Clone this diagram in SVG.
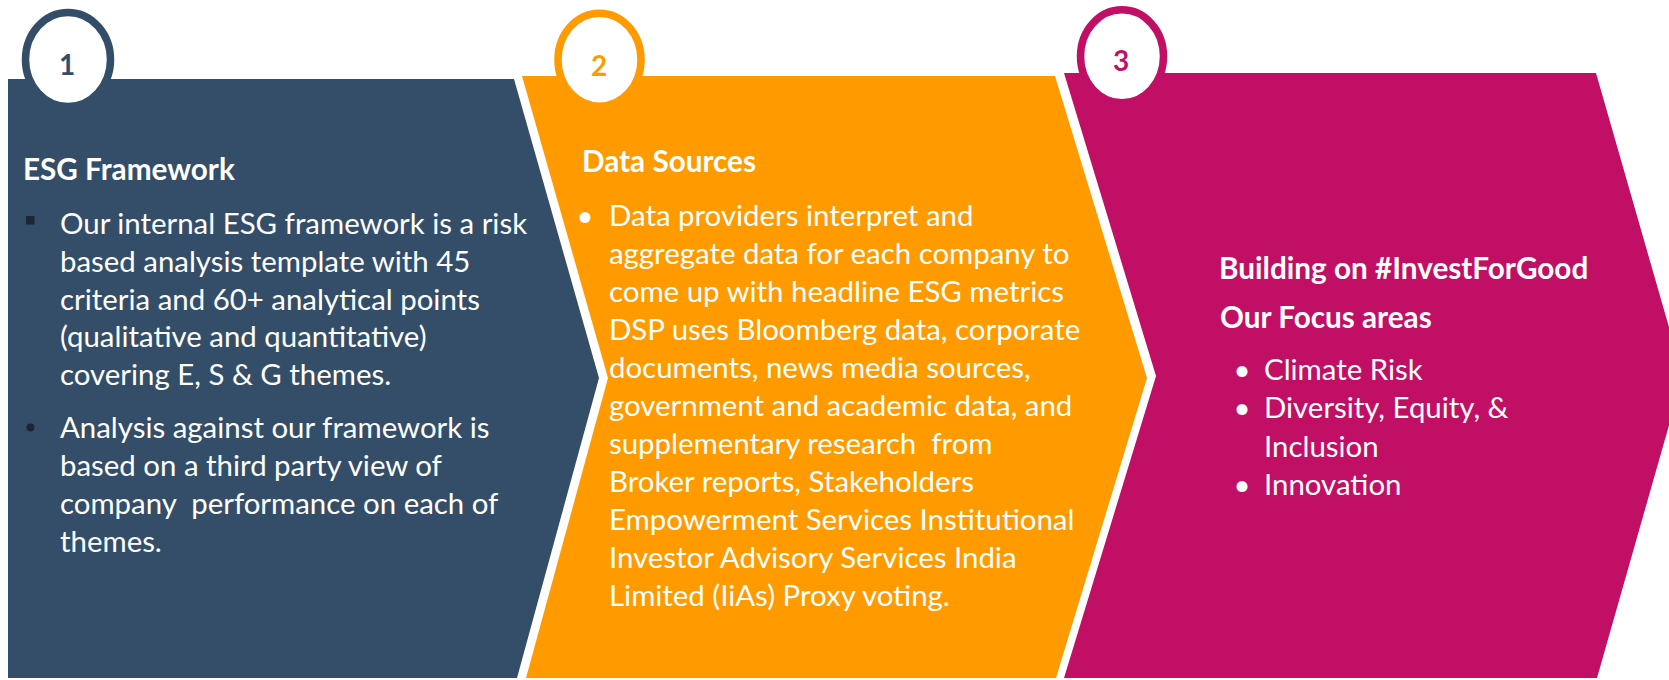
<svg xmlns="http://www.w3.org/2000/svg" width="1669" height="680" viewBox="0 0 1669 680">
<style>
.t{font-family:Lato,"Liberation Sans",sans-serif;fill:#fff;font-size:29.4px}
.h{font-weight:bold;font-size:29.7px}
.num{font-family:Lato,"Liberation Sans",sans-serif;font-weight:bold;font-size:28px;text-anchor:middle}
.ring{fill:#fff;stroke-width:7.5}
.dk{fill:#1b2735}
</style>
<rect width="1669" height="680" fill="#fff"/>
<g id="connectors"/>
<g id="step1">
<polygon points="8,79 514,79 599,378 517,678 8,678" fill="#344e69"/>
<ellipse class="ring" cx="68" cy="59.5" rx="42.5" ry="47" stroke="#344e69"/>
<text class="num" x="67" y="74.5" fill="#344e69">1</text>
<text class="t h" x="23" y="180">ESG Framework</text>
<rect class="dk" x="26" y="216" width="8.5" height="8.5"/>
<text class="t" x="60" y="234">Our internal ESG framework is a risk</text>
<text class="t" x="60" y="272">based analysis template with 45</text>
<text class="t" x="60" y="309.5">criteria and 60+ analytical points</text>
<text class="t" x="60" y="347">(qualitative and quantitative)</text>
<text class="t" x="60" y="385">covering E, S &amp; G themes.</text>
<circle class="dk" cx="30.5" cy="427.5" r="4"/>
<text class="t" x="60" y="437.5">Analysis against our framework is</text>
<text class="t" x="60" y="475.5">based on a third party view of</text>
<text class="t" x="60" y="513.5" xml:space="preserve">company  performance on each of</text>
<text class="t" x="60" y="551.5">themes.</text>
</g>
<g id="step2">
<polygon points="522,76 1055,76 1147,378 1056,678 526,678 608,378" fill="#ff9b00"/>
<ellipse class="ring" cx="599.5" cy="59.7" rx="41.5" ry="46.5" stroke="#ff9b00"/>
<text class="num" x="599" y="75.5" fill="#ff9b00">2</text>
<text class="t h" x="582" y="172">Data Sources</text>
<text class="t" x="585" y="226" text-anchor="middle">•</text>
<text class="t" x="609" y="226">Data providers interpret and</text>
<text class="t" x="609" y="264">aggregate data for each company to</text>
<text class="t" x="609" y="302">come up with headline ESG metrics</text>
<text class="t" x="609" y="340">DSP uses Bloomberg data, corporate</text>
<text class="t" x="609" y="378">documents, news media sources,</text>
<text class="t" x="609" y="416">government and academic data, and</text>
<text class="t" x="609" y="454" xml:space="preserve">supplementary research  from</text>
<text class="t" x="609" y="492">Broker reports, Stakeholders</text>
<text class="t" x="609" y="530">Empowerment Services Institutional</text>
<text class="t" x="609" y="568">Investor Advisory Services India</text>
<text class="t" x="609" y="606">Limited (IiAs) Proxy voting.</text>
</g>
<g id="step3">
<polygon points="1064,73 1596,73 1683,376 1597,678 1064,678 1156,376" fill="#c20f66"/>
<ellipse class="ring" cx="1122" cy="56.3" rx="41.5" ry="46.5" stroke="#c20f66"/>
<text class="num" x="1121" y="71" fill="#c20f66">3</text>
<text class="t h" x="1219" y="279">Building on #InvestForGood</text>
<text class="t h" x="1220" y="328">Our Focus areas</text>
<text class="t" x="1242" y="380" text-anchor="middle">•</text>
<text class="t" x="1264" y="380">Climate Risk</text>
<text class="t" x="1242" y="418" text-anchor="middle">•</text>
<text class="t" x="1264" y="418">Diversity, Equity, &amp;</text>
<text class="t" x="1264" y="457">Inclusion</text>
<text class="t" x="1242" y="495" text-anchor="middle">•</text>
<text class="t" x="1264" y="495">Innovation</text>
</g>
</svg>
